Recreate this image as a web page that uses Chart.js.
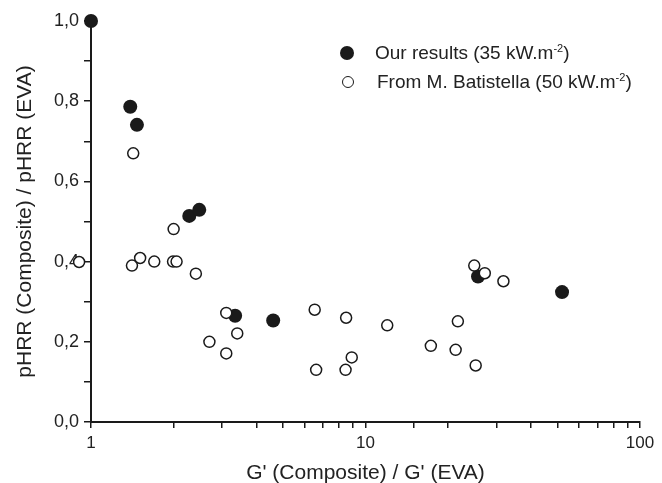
<!DOCTYPE html>
<html>
<head>
<meta charset="utf-8">
<script src="https://cdn.jsdelivr.net/npm/chart.js@4"></script>
<style>
  html, body { margin: 0; padding: 0; background: #fff; }
  #wrap { position: relative; width: 662px; height: 483px; }
  #myChart { display: block; }
  .leg { position: absolute; font-family: "Liberation Sans", Arial, sans-serif; font-size: 19px; color: #222; line-height: 20px; white-space: nowrap; }
  .leg sup { font-size: 11px; vertical-align: 7px; line-height: 0; }
  .dot { position: absolute; border-radius: 50%; box-sizing: border-box; }
</style>
</head>
<body>
<div id="wrap">
  <canvas id="myChart" width="662" height="483"></canvas>
  <div class="dot" style="left:340px;top:46px;width:14px;height:14px;background:#1a1a1a;"></div>
  <div class="leg" style="left:375px;top:43px;">Our results (35 kW.m<sup>-2</sup>)</div>
  <div class="dot" style="left:342px;top:76px;width:12px;height:12px;border:1.5px solid #1a1a1a;background:#fff;"></div>
  <div class="leg" style="left:377px;top:72px;">From M. Batistella (50 kW.m<sup>-2</sup>)</div>
</div>
<script>
// our results (35 kW.m-2)
var ours_x = [1.0, 1.39, 1.47, 2.28, 2.48, 3.35, 4.61, 25.7, 52.0];
var ours_y = [1.0, 0.786, 0.741, 0.514, 0.529, 0.265, 0.253, 0.363, 0.324];
// M. Batistella (50 kW.m-2)
var bat_x = [0.905, 1.41, 1.425, 1.51, 1.70, 1.99, 2.0, 2.05, 2.41, 2.70, 3.11, 3.11, 3.41,
             6.53, 6.61, 8.50, 8.46, 8.91, 12.0, 17.3, 21.7, 21.3, 25.2, 24.9, 27.2, 31.8];
var bat_y = [0.399, 0.390, 0.670, 0.409, 0.400, 0.400, 0.481, 0.400, 0.370, 0.200, 0.272, 0.171, 0.221,
             0.280, 0.130, 0.260, 0.130, 0.161, 0.241, 0.190, 0.251, 0.180, 0.141, 0.390, 0.371, 0.351];
var x_labels = [1, 10, 100];

function toPoints(xs, ys) {
    var pts = [];
    for (let i = 0; i < xs.length; i++) {
        pts.push({ x: xs[i], y: ys[i] });
    }
    return pts;
}

var axisColor = '#1a1a1a';
var textColor = '#222';
var fontFam = '"Liberation Sans", Arial, sans-serif';

// chart.js skips points lying outside the chart area, the x=0.9 point sits left of the axis
var outsidePoints = {
    id: 'outsidePoints',
    afterDatasetsDraw: function (chart) {
        var area = chart.chartArea;
        var full = { left: 0, top: 0, right: chart.width, bottom: chart.height };
        chart.data.datasets.forEach(function (ds, i) {
            chart.getDatasetMeta(i).data.forEach(function (el) {
                if (el.x < area.left - 2) {
                    el.draw(chart.ctx, full);
                }
            });
        });
    }
};

var ctx = document.getElementById('myChart');
var chart = new Chart(ctx, {
    type: 'scatter',
    data: {
        datasets: [
            {
                label: 'From M. Batistella (50 kW.m-2)',
                data: toPoints(bat_x, bat_y),
                pointRadius: 5.5,
                pointBorderWidth: 1.5,
                pointBorderColor: axisColor,
                pointBackgroundColor: '#fff',
                clip: false,
                order: 1
            },
            {
                label: 'Our results (35 kW.m-2)',
                data: toPoints(ours_x, ours_y),
                pointRadius: 7,
                pointBorderWidth: 0,
                pointBorderColor: axisColor,
                pointBackgroundColor: axisColor,
                clip: false,
                order: 2
            }
        ]
    },
    plugins: [outsidePoints],
    options: {
        responsive: false,
        animation: false,
        layout: { padding: { left: 0, right: 22, top: 21, bottom: 0 } },
        plugins: {
            legend: { display: false },
            tooltip: { enabled: false }
        },
        scales: {
            x: {
                type: 'logarithmic',
                min: 1,
                max: 100,
                afterFit: function (scale) { scale.height = 61; },
                border: { display: true, color: axisColor, width: 2 },
                grid: { drawOnChartArea: false, drawTicks: true, tickLength: 6, color: axisColor, lineWidth: 1.5 },
                ticks: {
                    autoSkip: false,
                    maxRotation: 0,
                    padding: 5,
                    color: textColor,
                    font: { family: fontFam, size: 17 },
                    callback: function (value) {
                        return x_labels.indexOf(value) >= 0 ? String(value) : '';
                    }
                },
                title: {
                    display: true,
                    text: "G' (Composite) / G' (EVA)",
                    color: textColor,
                    font: { family: fontFam, size: 21 },
                    padding: { top: 0, bottom: -3 }
                }
            },
            y: {
                min: 0,
                max: 1.0,
                afterFit: function (scale) { scale.width = 91; },
                border: { display: true, color: axisColor, width: 2 },
                grid: { drawOnChartArea: false, drawTicks: true, tickLength: 7, color: axisColor, lineWidth: 1.5 },
                ticks: {
                    stepSize: 0.1,
                    padding: 5,
                    color: textColor,
                    font: { family: fontFam, size: 18 },
                    callback: function (value) {
                        var k = Math.round(value * 10);
                        return k % 2 === 0 ? (k / 10).toFixed(1).replace('.', ',') : '';
                    }
                },
                title: {
                    display: true,
                    text: 'pHRR (Composite) / pHRR (EVA)',
                    color: textColor,
                    font: { family: fontFam, size: 21 },
                    padding: { top: 13, bottom: 0 }
                }
            }
        }
    }
});
</script>
</body>
</html>
